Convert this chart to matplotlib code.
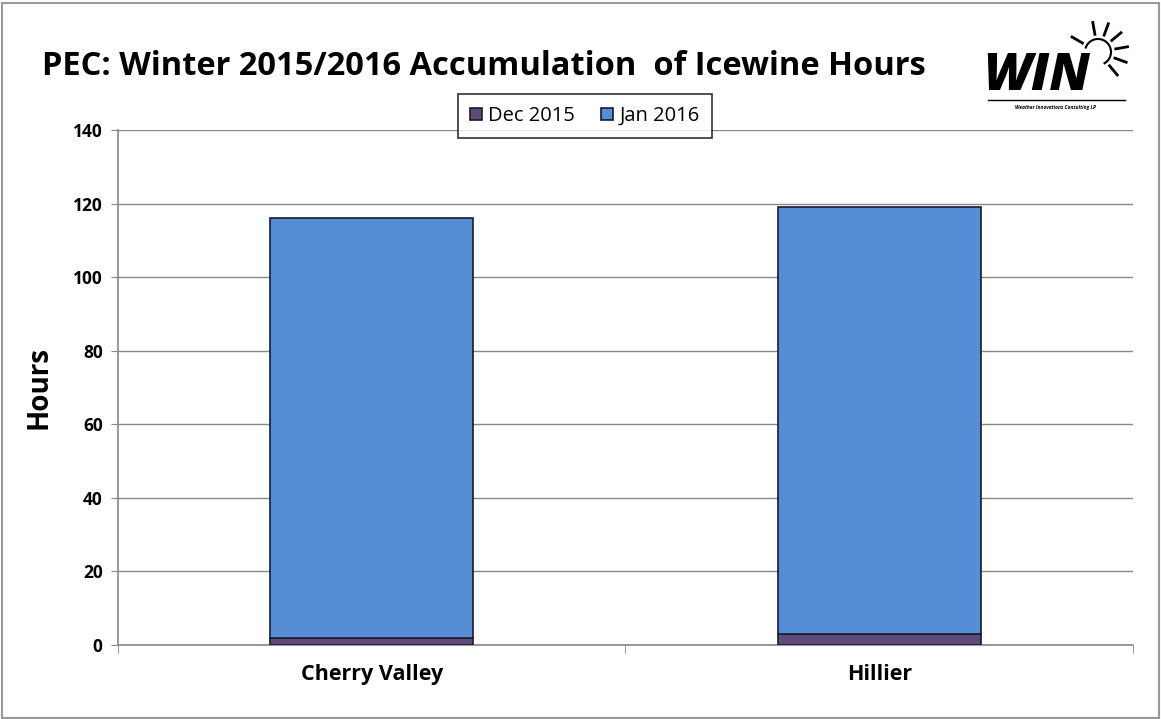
import numpy as np
import matplotlib.pyplot as plt

# data
sites = ['Cherry Valley', 'Hillier']
dec_2015 = [2, 3]
jan_2016 = [114, 116]
y_ticks = [0, 20, 40, 60, 80, 100, 120, 140]

dec_color = '#604A7B'
jan_color = '#558ED5'

plt.rcParams['font.family'] = ['Open Sans', 'DejaVu Sans']

fig = plt.figure(figsize=(11.61, 7.19), dpi=100)
ax = fig.add_axes([0.1016, 0.1029, 0.8743, 0.7163])

x = np.arange(len(sites))
ax.bar(x, dec_2015, width=0.4, color=dec_color, edgecolor='#1a1a2e', linewidth=1.2,
       label='Dec 2015', zorder=3)
ax.bar(x, jan_2016, width=0.4, bottom=dec_2015, color=jan_color, edgecolor='#1a1a2e',
       linewidth=1.2, label='Jan 2016', zorder=3)

ax.set_xlim(-0.5, 1.5)
ax.set_ylim(0, 140)
ax.set_yticks(y_ticks)
ax.set_yticklabels([str(t) for t in y_ticks], fontsize=12.5, fontweight='bold')
ax.yaxis.grid(True, color='#888888', linewidth=1)
ax.set_axisbelow(True)

ax.set_xticks(x)
ax.set_xticklabels(sites, fontsize=15.5, fontweight='bold')
ax.tick_params(axis='x', length=0, pad=14)
ax.set_xticks([-0.5, 0.5, 1.5], minor=True)
ax.tick_params(axis='x', which='minor', length=6, color='#888888')
ax.tick_params(axis='y', length=5, color='#888888', pad=6)

for s in ['top', 'right']:
    ax.spines[s].set_visible(False)
for s in ['left', 'bottom']:
    ax.spines[s].set_color('#888888')
    ax.spines[s].set_linewidth(1.2)

ax.set_ylabel('Hours', fontsize=20, fontweight='bold', labelpad=14)

fig.text(0.036, 0.907, 'PEC: Winter 2015/2016 Accumulation  of Icewine Hours',
         fontsize=23.5, fontweight='bold', ha='left', va='center')

leg = ax.legend(loc='center', bbox_to_anchor=(585 / 1161, 1 - 116 / 719),
                bbox_transform=fig.transFigure, ncol=2, fontsize=14.5, frameon=True,
                fancybox=False, edgecolor='black', handlelength=0.6, handleheight=0.6,
                handletextpad=0.3, columnspacing=1.3, borderpad=0.6, borderaxespad=0)
leg.get_frame().set_linewidth(1.2)

# logo
fig.text(1037 / 1161, 1 - 76 / 719, 'WIN', fontsize=37, fontweight='heavy', style='italic',
         ha='center', va='center')
fig.add_artist(plt.Line2D([988 / 1161, 1125 / 1161], [1 - 100 / 719, 1 - 100 / 719],
                          color='black', linewidth=1))
fig.text(1055 / 1161, 1 - 107 / 719, 'Weather Innovations Consulting LP', fontsize=3.5,
         fontweight='bold', style='italic', ha='center', va='center')
cx, cy = 1098, 52
for ang in [100, 70, 40, 10, -20, -50, 150]:
    a = np.deg2rad(ang)
    fig.add_artist(plt.Line2D([(cx + 18 * np.cos(a)) / 1161, (cx + 30 * np.cos(a)) / 1161],
                              [1 - (cy - 18 * np.sin(a)) / 719, 1 - (cy - 30 * np.sin(a)) / 719],
                              color='black', linewidth=2))
th = np.linspace(np.deg2rad(-60), np.deg2rad(160), 40)
fig.add_artist(plt.Line2D((cx + 13 * np.cos(th)) / 1161, 1 - (cy - 13 * np.sin(th)) / 719,
                          color='black', linewidth=1.5))

# outer border
fig.add_artist(plt.Rectangle((0.002, 0.002), 0.996, 0.994, fill=False,
                             edgecolor='#999999', linewidth=1.5, transform=fig.transFigure))

plt.savefig('out.png', dpi=100)
